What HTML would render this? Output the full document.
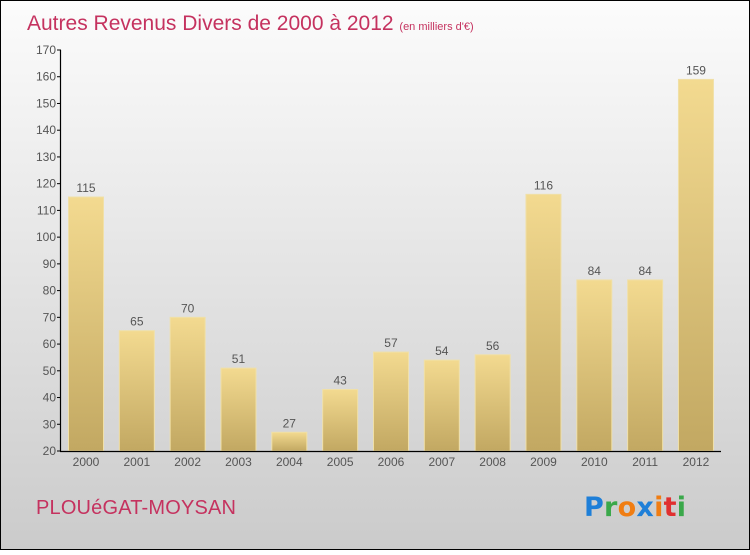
<!DOCTYPE html>
<html><head><meta charset="utf-8"><style>
html,body{margin:0;padding:0}
body{width:750px;height:550px;overflow:hidden;font-family:"Liberation Sans",sans-serif}
</style></head><body>
<svg id="chart" width="750" height="550" xmlns="http://www.w3.org/2000/svg">
<defs>
<linearGradient id="bg" x1="0" y1="0" x2="0" y2="1"><stop offset="0" stop-color="#fcfcfc"/><stop offset="1" stop-color="#cbcbcb"/></linearGradient>
<linearGradient id="bar" x1="0" y1="0" x2="0" y2="1"><stop offset="0" stop-color="#f3da90"/><stop offset="1" stop-color="#c2a862"/></linearGradient>
</defs>
<rect x="0.5" y="0.5" width="749" height="549" fill="url(#bg)" stroke="#000"/>
<text x="27" y="30" font-size="21" fill="#c5325f">Autres Revenus Divers de 2000 à 2012 <tspan font-size="11">(en milliers d'€)</tspan></text>
<g id="bars"></g>
<g id="axes"></g>
<text x="36" y="514" font-size="20" fill="#c5325f" textLength="200">PLOUéGAT-MOYSAN</text>
<g font-size="27" font-family="'DejaVu Sans',sans-serif" font-weight="bold">
<text x="584" y="516" textLength="102"><tspan fill="#1e7fd8">P</tspan><tspan fill="#3aa84a">r</tspan><tspan fill="#f07d12">o</tspan><tspan fill="#1e7fd8">x</tspan><tspan fill="#f07d12">i</tspan><tspan fill="#e03030">t</tspan><tspan fill="#3aa84a">i</tspan></text>
</g>
</svg>
<script>
const categories=["2000","2001","2002","2003","2004","2005","2006","2007","2008","2009","2010","2011","2012"];
const values=[115,65,70,51,27,43,57,54,56,116,84,84,159];
const yTicks=[20,30,40,50,60,70,80,90,100,110,120,130,140,150,160,170];
const NS="http://www.w3.org/2000/svg";
const y=v=>451-(v-20)*(401/150);
const x=i=>86+i*50.83;
const bars=document.getElementById('bars'),axes=document.getElementById('axes');
function mk(tag,attrs,parent){const e=document.createElementNS(NS,tag);for(const k in attrs)e.setAttribute(k,attrs[k]);parent.appendChild(e);return e;}
values.forEach((v,i)=>{
 const r=mk('rect',{x:x(i)-17.5,y:y(v),width:35,height:451-y(v),fill:'url(#bar)',stroke:'#f0e0a8','stroke-width':1},bars);
 
 
 const t=mk('text',{x:x(i),y:y(v)-5,'text-anchor':'middle','font-size':12,fill:'#555'},bars);
 t.textContent=v;
 
 
 const c=mk('text',{x:x(i),y:466,'text-anchor':'middle','font-size':12,fill:'#555'},axes);
 c.textContent=categories[i];
 
 
});
yTicks.forEach(v=>{
 mk('line',{x1:57,x2:61,y1:y(v),y2:y(v),stroke:'#000'},axes);
 const t=mk('text',{x:56,y:y(v)+4,'text-anchor':'end','font-size':12,fill:'#555'},axes);
 t.textContent=v;
 
 
});
const ya=mk('line',{x1:60.5,x2:60.5,y1:y(170),y2:451.5,stroke:'#000','stroke-width':1.2},axes);


const xa=mk('line',{x1:60,x2:721,y1:451.5,y2:451.5,stroke:'#000','stroke-width':1.2},axes);


</script>
</body></html>
